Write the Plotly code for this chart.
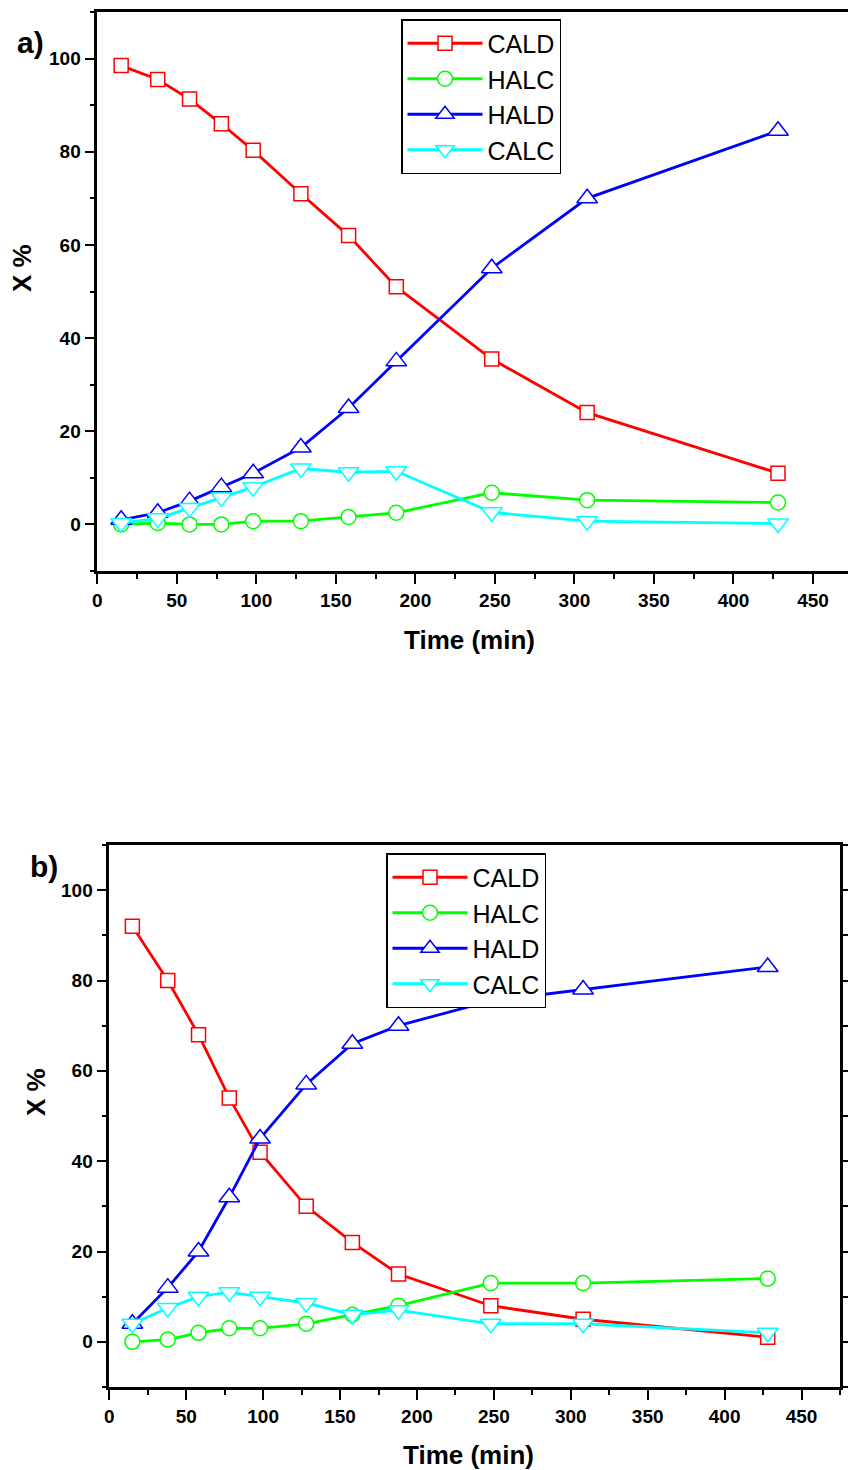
import plotly.graph_objects as go

# ---------------- data ----------------
time_a = [15, 38, 58, 78, 98, 128, 158, 188, 248, 308, 428]
cald_a = [98.5, 95.5, 91.3, 86, 80.3, 71, 62, 51, 35.5, 24, 11]
halc_a = [0, 0.3, 0, 0, 0.7, 0.7, 1.6, 2.5, 6.8, 5.2, 4.7]
hald_a = [1, 2.5, 5, 8, 11, 16.5, 25, 35, 55, 70, 84.5]
calc_a = [0.3, 1.3, 3.5, 5.8, 8, 12, 11.2, 11.4, 2.6, 0.7, 0.2]

time_b = [15, 38, 58, 78, 98, 128, 158, 188, 248, 308, 428]
cald_b = [92, 80, 68, 54, 42, 30, 22, 15, 8, 5, 1]
halc_b = [0, 0.5, 2, 3, 3, 4, 6, 8, 13, 13, 14]
hald_b = [4, 12, 20, 32, 45, 57, 66, 70, 75.5, 78, 83]
calc_b = [4, 7.5, 10, 11, 10, 8.6, 6, 7, 4, 4, 2]

series_names = ["CALD", "HALC", "HALD", "CALC"]
series_colors = ["#FF0000", "#00FF00", "#0000FF", "#00FFFF"]
series_symbols = ["square", "circle", "triangle-up", "triangle-down"]
series_sizes = [14, 15, 18, 18]

W, H = 848, 1470
FONT = "Liberation Sans, Arial, sans-serif"

fig = go.Figure()

panels = [
    (time_a, [cald_a, halc_a, hald_a, calc_a], "x", "y", "legend"),
    (time_b, [cald_b, halc_b, hald_b, calc_b], "x2", "y2", "legend2"),
]
for t, ys, xa, ya, lg in panels:
    for name, vals, col, sym, sz in zip(series_names, ys, series_colors, series_symbols, series_sizes):
        fig.add_trace(go.Scatter(
            x=t, y=vals, name=name, mode="lines+markers",
            xaxis=xa, yaxis=ya, legend=lg,
            line=dict(color=col, width=2.8),
            marker=dict(symbol=sym, size=sz, color="white",
                        line=dict(color=col, width=1.5)),
        ))

tickfont = dict(family=FONT, size=19, color="black", weight="bold")
common_axis = dict(showgrid=False, zeroline=False, showline=True, linecolor="black",
                   linewidth=2.5, ticks="outside", ticklen=10, tickwidth=2,
                   tickcolor="black", tickfont=tickfont, automargin=False)
minor_x = dict(dtick=25, ticklen=5, tickwidth=2, tickcolor="black", ticks="outside")
minor_y = dict(dtick=10, ticklen=5, tickwidth=2, tickcolor="black", ticks="outside")

fig.update_layout(
    width=W, height=H,
    margin=dict(l=0, r=0, t=0, b=0, autoexpand=False),
    paper_bgcolor="white", plot_bgcolor="white",
    showlegend=True,
    xaxis=dict(domain=[97.3 / W, 1.0], range=[0, 472], anchor="y", dtick=50, tick0=0,
               mirror=True, minor=minor_x, **common_axis),
    yaxis=dict(domain=[1 - 571 / H, 1 - 12 / H], range=[-10, 110], anchor="x", dtick=20, tick0=0,
               minor=minor_y, **common_axis),
    xaxis2=dict(domain=[109.3 / W, 840 / W], range=[0, 475], anchor="y2", dtick=50, tick0=0,
                mirror=True, minor=minor_x, **common_axis),
    yaxis2=dict(domain=[1 - 1387 / H, 1 - 845 / H], range=[-10, 110], anchor="x2", dtick=20, tick0=0,
                mirror="ticks", minor=minor_y, **common_axis),
    legend=dict(x=401 / W, y=1 - 19 / H, xanchor="left", yanchor="top",
                bgcolor="white", bordercolor="black", borderwidth=1.5,
                font=dict(family=FONT, size=25, color="black"), itemwidth=75,
                tracegroupgap=0),
    legend2=dict(x=386 / W, y=1 - 853 / H, xanchor="left", yanchor="top",
                 bgcolor="white", bordercolor="black", borderwidth=1.5,
                 font=dict(family=FONT, size=25, color="black"), itemwidth=75,
                 tracegroupgap=0),
)

titlefont = dict(family=FONT, size=26, color="black", weight="bold")
ann = [
    dict(text="Time (min)", x=469 / W, y=1 - 640 / H, font=titlefont),
    dict(text="X %", x=22 / W, y=1 - 268 / H, font=titlefont, textangle=-90),
    dict(text="Time (min)", x=468 / W, y=1 - 1455 / H, font=titlefont),
    dict(text="X %", x=36 / W, y=1 - 1092 / H, font=titlefont, textangle=-90),
    dict(text="a)", x=30 / W, y=1 - 42 / H, font=dict(family=FONT, size=30, color="black", weight="bold")),
    dict(text="b)", x=44 / W, y=1 - 866 / H, font=dict(family=FONT, size=30, color="black", weight="bold")),
]
for a in ann:
    fig.add_annotation(xref="paper", yref="paper", showarrow=False,
                       xanchor="center", yanchor="middle", **a)

fig.write_html("out.html",
               config={"displayModeBar": False},
               post_script="document.body.style.margin='0';"
                           "document.body.style.overflow='hidden';")
